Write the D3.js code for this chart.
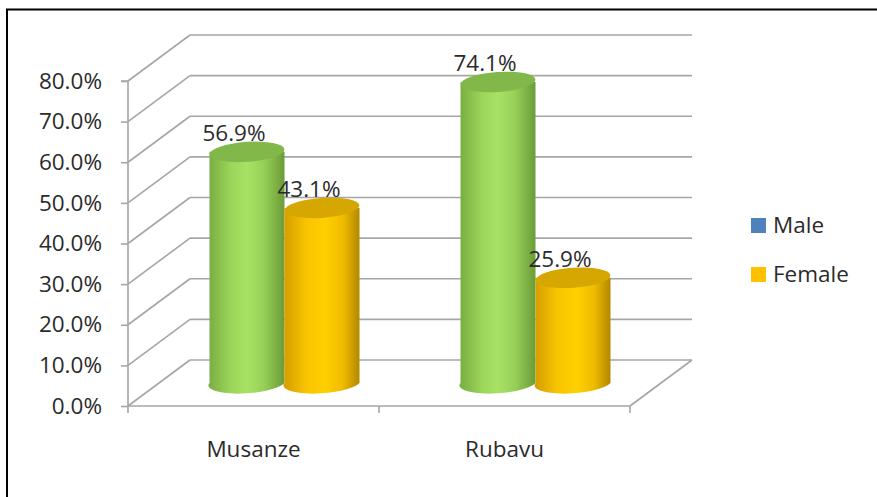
<!DOCTYPE html>
<html>
<head>
<meta charset="utf-8">
<script src="https://cdn.jsdelivr.net/npm/d3@7"></script>
<style>
  html, body { margin: 0; padding: 0; background: #fff; }
  svg { display: block; }
  text { font-family: "Open Sans", "Liberation Sans", sans-serif; fill: #2b2b2b; }
</style>
</head>
<body>
<svg id="chart" width="877" height="497"></svg>
<script>
const categories = ["Musanze", "Rubavu"];
const seriesNames = ["Male", "Female"];
const maleValues = [0.569, 0.741];
const femaleValues = [0.431, 0.259];
const yTicks = [0, 0.1, 0.2, 0.3, 0.4, 0.5, 0.6, 0.7, 0.8];
const legendColors = ["#4f81bd", "#ffc000"];

const FS = 22.5;
const svg = d3.select("#chart");
const defs = svg.append("defs");

// geometry
const front = { left: 128, right: 630, top: 81, bottom: 406 };
const depth = { dx: 62, dy: -46 };
const mid = { dx: depth.dx / 2, dy: depth.dy / 2 };

const y = d3.scaleLinear().domain([0, 0.8]).range([front.bottom, front.top]);
const x = d3.scaleBand().domain(categories).range([front.left, front.right]);
const inner = d3.scaleBand().domain(seriesNames).range([-75, 75]);

// frame (top and left only)
svg.append("path")
  .attr("d", "M7,497 L7,9.5 L877,9.5")
  .attr("fill", "none").attr("stroke", "#000").attr("stroke-width", 2);

const grid = svg.append("g").attr("stroke", "#a6a6a6").attr("stroke-width", 1.6).attr("fill", "none");
yTicks.forEach(t => {
  const yf = y(t), yb = y(t) + depth.dy;
  grid.append("line").attr("x1", front.left).attr("y1", yf)
    .attr("x2", front.left + depth.dx).attr("y2", yb);
  grid.append("line").attr("x1", front.left + depth.dx).attr("y1", yb)
    .attr("x2", front.right + depth.dx).attr("y2", yb);
});
grid.append("line").attr("x1", front.left).attr("y1", y(0)).attr("x2", front.right).attr("y2", y(0));
grid.append("line").attr("x1", front.right).attr("y1", y(0))
  .attr("x2", front.right + depth.dx).attr("y2", y(0) + depth.dy);

// y axis
const yAxis = d3.axisLeft(y).tickValues(yTicks).tickFormat(d3.format(".1%")).tickSize(7).tickPadding(19);
const gy = svg.append("g").attr("transform", `translate(${front.left},0)`).call(yAxis);
gy.select(".domain").attr("stroke", "#a6a6a6").attr("stroke-width", 1.6).attr("d", `M-7,${front.top}H0V${front.bottom}`);
gy.selectAll(".tick line").attr("stroke", "#a6a6a6").attr("stroke-width", 1.6);
gy.selectAll(".tick text").attr("font-size", FS).attr("font-family", "Open Sans").attr("fill", "#2b2b2b");

// x axis
const gx = svg.append("g").attr("transform", `translate(0,${front.bottom})`);
const xTickPositions = [front.left, ...categories.map(c => x(c) + x.bandwidth())];
gx.selectAll("line.xt").data(xTickPositions).join("line")
  .attr("x1", d => d).attr("x2", d => d).attr("y1", 0).attr("y2", 7)
  .attr("stroke", "#a6a6a6").attr("stroke-width", 1.6);
gx.selectAll("text").data(categories).join("text")
  .attr("x", d => x(d) + x.bandwidth() / 2)
  .attr("y", 51)
  .attr("text-anchor", "middle")
  .attr("font-size", FS)
  .text(d => d);

// gradients
function makeGrad(id, stops) {
  const g = defs.append("linearGradient").attr("id", id).attr("x1", "0").attr("x2", "1").attr("y1", "0").attr("y2", "0");
  stops.forEach(([o, c]) => g.append("stop").attr("offset", o).attr("stop-color", c));
}
makeGrad("gGreen", [[0, "#78ad42"], [0.3, "#9cd65a"], [0.5, "#a8e265"], [0.72, "#98d158"], [1, "#6b9c38"]]);
makeGrad("gYellow", [[0, "#d39d00"], [0.3, "#f8c400"], [0.55, "#ffd000"], [0.78, "#f0bc00"], [1, "#b38800"]]);

const bodyFill = ["url(#gGreen)", "url(#gYellow)"];
const topFill = ["#82b84a", "#d6a700"];

const rx = 37.5, ry = 10, rot = -4;
const bars = [];
categories.forEach((c, i) => {
  [maleValues[i], femaleValues[i]].forEach((v, s) => {
    bars.push({ cat: c, series: seriesNames[s], s, v });
  });
});

const gb = svg.append("g");
bars.forEach(b => {
  const cx = x(b.cat) + x.bandwidth() / 2 + mid.dx + inner(b.series) + inner.bandwidth() / 2;
  const yTop = y(b.v) + mid.dy;
  const yBot = y(0) + mid.dy;
  const g = gb.append("g");
  g.append("path")
    .attr("d", `M${cx - rx},${yTop} L${cx - rx},${yBot} A${rx},${ry} ${rot} 0 0 ${cx + rx},${yBot} L${cx + rx},${yTop} Z`)
    .attr("fill", bodyFill[b.s]);
  g.append("ellipse")
    .attr("cx", cx).attr("cy", yTop).attr("rx", rx).attr("ry", ry)
    .attr("transform", `rotate(${rot},${cx},${yTop})`)
    .attr("fill", topFill[b.s]);
  b.cx = cx; b.yTop = yTop;
});

// data labels
svg.append("g").selectAll("text").data(bars).join("text")
  .attr("x", d => d.cx - 13)
  .attr("y", d => d.yTop - 11)
  .attr("text-anchor", "middle")
  .attr("font-size", FS)
  .text(d => d3.format(".1%")(d.v));

// legend
const lg = svg.append("g").attr("transform", "translate(751,218)");
seriesNames.forEach((n, i) => {
  lg.append("rect").attr("x", 0).attr("y", i * 49).attr("width", 15).attr("height", 15).attr("fill", legendColors[i]);
  lg.append("text").attr("x", 22).attr("y", i * 49 + 15).attr("font-size", FS).text(n);
});
</script>
</body>
</html>
